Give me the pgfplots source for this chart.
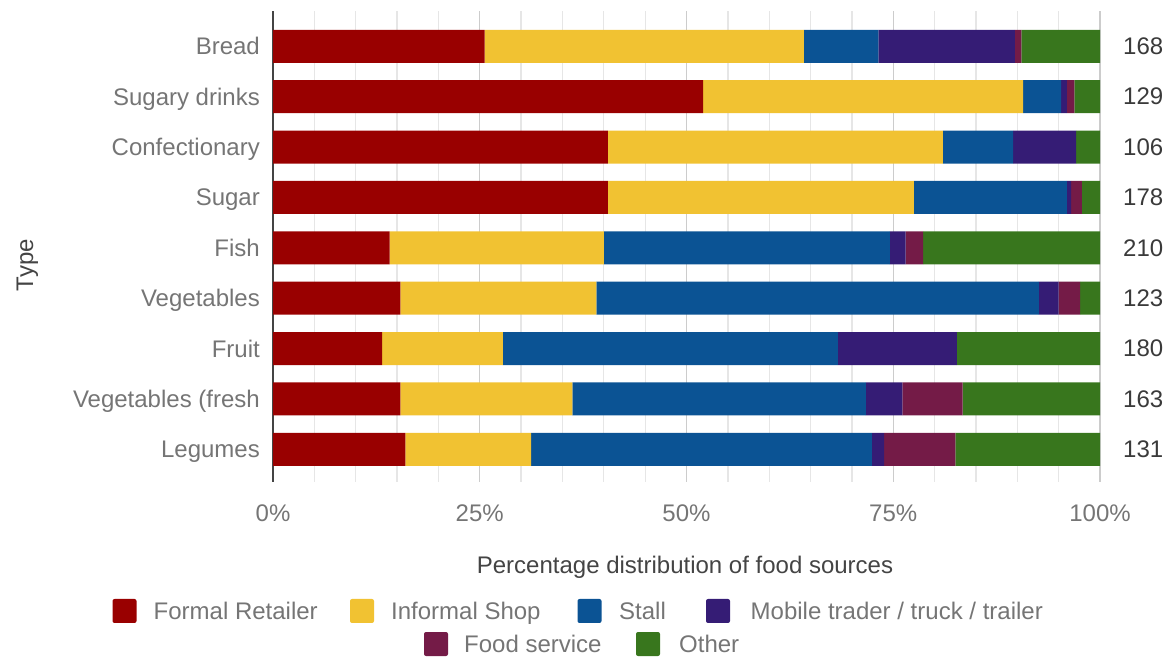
\documentclass[border=0pt]{standalone}
\usepackage{pgfplots}
\pgfplotsset{compat=1.18}
\usepackage{pgfplotstable}
\usepackage{fontspec}
\setmainfont{Liberation Sans}
\definecolor{cFR}{HTML}{990000}
\definecolor{cIS}{HTML}{F1C232}
\definecolor{cST}{HTML}{0B5394}
\definecolor{cMT}{HTML}{351C75}
\definecolor{cFS}{HTML}{741B47}
\definecolor{cOT}{HTML}{38761D}
\definecolor{cLab}{HTML}{757575}
\definecolor{cNum}{HTML}{3A3A3A}
\definecolor{cTit}{HTML}{444444}
\definecolor{cAx}{HTML}{444444}
\definecolor{cMaj}{HTML}{CCCCCC}
\definecolor{cMin}{HTML}{E6E6E6}

\pgfplotstableread{
y  fr   is   st   mt   fs   ot
8  25.6 38.6 9.0  16.5 0.8  9.5
7  52.0 38.7 4.6  0.7  0.9  3.1
6  40.5 40.5 8.5  7.6  0.0  2.9
5  40.5 37.0 18.5 0.5  1.3  2.2
4  14.1 25.9 34.6 1.9  2.1  21.4
3  15.4 23.7 53.5 2.4  2.6  2.4
2  13.2 14.6 40.5 14.4 0.0  17.3
1  15.4 20.8 35.5 4.4  7.3  16.6
0  16.0 15.2 41.2 1.5  8.6  17.5
}\datatable

\newcommand{\fs}{\fontsize{24}{28}\selectfont}

\begin{document}
\begin{tikzpicture}
\useasboundingbox (0,0) rectangle (1166pt,658pt);
\begin{axis}[
  at={(273pt,176pt)}, anchor=south west,
  scale only axis, width=827pt, height=471pt,
  xmin=0, xmax=100, ymin=-0.65, ymax=8.70,
  xbar stacked, bar width=33pt,
  ytick={0,...,8},
  yticklabels={Legumes,Vegetables (fresh,Fruit,Vegetables,Fish,Sugar,Confectionary,Sugary drinks,Bread},
  xtick={0,25,50,75,100},
  xticklabels={0\%,25\%,50\%,75\%,100\%},
  minor x tick num=4,
  xmajorgrids, xminorgrids,
  major grid style={color=cMaj, line width=1.3pt},
  minor grid style={color=cMin, line width=1.3pt},
  major tick length=0pt, minor tick length=0pt,
  axis line style={draw=none},
  tick label style={font=\fs, text=cLab},
  yticklabel style={anchor=base east, inner sep=0pt, xshift=-13pt, yshift=-8.6pt},
  xticklabel style={anchor=base, inner sep=0pt, yshift=-40pt},
  clip=false,
]
\addplot[fill=cFR, draw=none] table[x=fr, y=y] {\datatable};
\addplot[fill=cIS, draw=none] table[x=is, y=y] {\datatable};
\addplot[fill=cST, draw=none] table[x=st, y=y] {\datatable};
\addplot[fill=cMT, draw=none] table[x=mt, y=y] {\datatable};
\addplot[fill=cFS, draw=none] table[x=fs, y=y] {\datatable};
\addplot[fill=cOT, draw=none] table[x=ot, y=y] {\datatable};
\draw[cAx, line width=1.5pt] (rel axis cs:0,0) -- (rel axis cs:0,1);
\foreach \yy/\nn in {8/168,7/129,6/106,5/178,4/210,3/123,2/180,1/163,0/131}{
  \edef\tmp{\noexpand\node[anchor=west, inner sep=0pt, xshift=23pt, font=\noexpand\fs, text=cNum] at (axis cs:100,\yy) {\nn};}
  \tmp
}
\end{axis}
% axis titles
\node[rotate=90, anchor=base, inner sep=0pt, font=\fs, text=cTit] at (33pt,393pt) {Type};
\node[anchor=base, inner sep=0pt, font=\fs, text=cTit] at (685pt,84.5pt) {Percentage distribution of food sources};
% legend
\begin{scope}[every node/.style={anchor=base west, inner sep=0pt, font=\fs, text=cLab}]
\fill[cFR, rounded corners=2pt] (112.5pt,35pt) rectangle (136.5pt,59pt);
\node at (153.5pt,38.5pt) {Formal Retailer};
\fill[cIS, rounded corners=2pt] (350pt,35pt) rectangle (374pt,59pt);
\node at (391pt,38.5pt) {Informal Shop};
\fill[cST, rounded corners=2pt] (577.5pt,35pt) rectangle (601.5pt,59pt);
\node at (619pt,38.5pt) {Stall};
\fill[cMT, rounded corners=2pt] (706pt,35pt) rectangle (730pt,59pt);
\node at (750.5pt,38.5pt) {Mobile trader / truck / trailer};
\fill[cFS, rounded corners=2pt] (424pt,2pt) rectangle (448pt,26pt);
\node at (464pt,5.5pt) {Food service};
\fill[cOT, rounded corners=2pt] (636pt,2pt) rectangle (660pt,26pt);
\node at (679pt,5.5pt) {Other};
\end{scope}
\end{tikzpicture}
\end{document}
